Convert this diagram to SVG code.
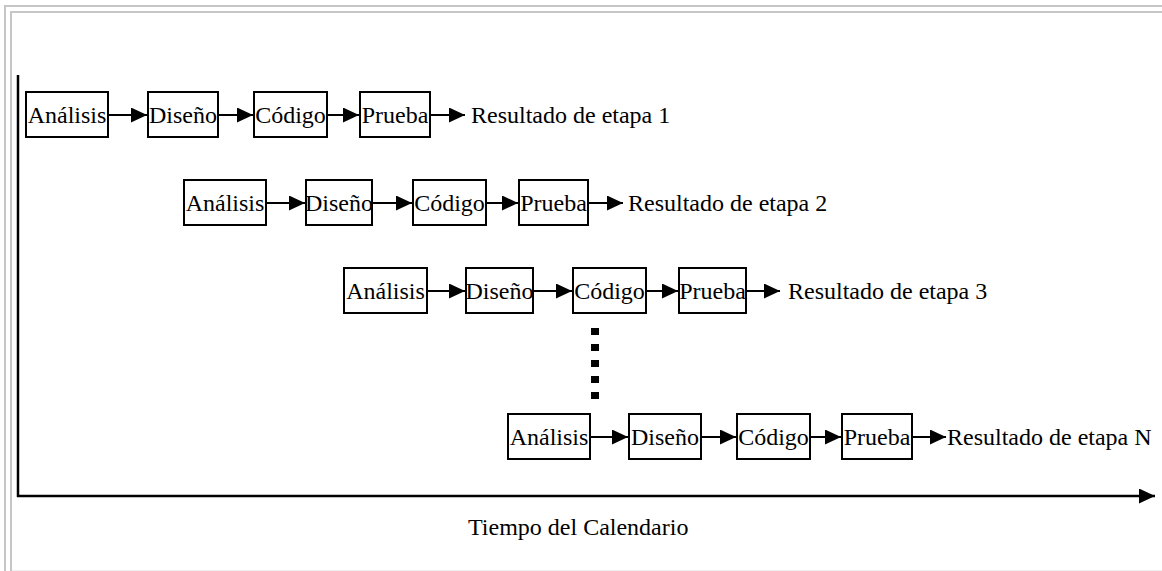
<svg xmlns="http://www.w3.org/2000/svg" width="1162" height="571" viewBox="0 0 1162 571">
<style>
.box{fill:#fff;stroke:#000;stroke-width:2}
.t{font-family:"Liberation Serif","Times New Roman",serif;font-size:24px;fill:#000}
.c{text-anchor:middle}
.ar{stroke:#000;stroke-width:2;fill:none;marker-end:url(#ah)}
.frame{fill:none;stroke:#c6c6c6;stroke-width:2}
</style>
<defs>
<marker id="ah" viewBox="0 0 16 15" refX="16" refY="7.5" markerWidth="16" markerHeight="15" markerUnits="userSpaceOnUse" orient="auto">
<path d="M0,0 L16,7.5 L0,15 z" fill="#000"/>
</marker>
</defs>
<rect x="0" y="0" width="1162" height="571" fill="#fff"/>
<g id="frame">
<path class="frame" d="M5,571 V6 H1162"/>
<path class="frame" d="M11,571 V12 H1162"/>
<path d="M12,570.5 H1162" stroke="#eeeeee" stroke-width="1" fill="none"/>
</g>
<g id="axes">
<path d="M18,75 V497" stroke="#000" stroke-width="2.5" fill="none"/>
<path d="M17,496 H1155" stroke="#000" stroke-width="2.5" fill="none" marker-end="url(#ah)"/>
<text class="t" x="468" y="535">Tiempo del Calendario</text>
</g>
<g id="connectors">
<path class="ar" d="M109,115 H147"/>
<path class="ar" d="M219,115 H253"/>
<path class="ar" d="M328,115 H359"/>
<path class="ar" d="M431,115 H465"/>
<path class="ar" d="M267,203 H305"/>
<path class="ar" d="M373,203 H412"/>
<path class="ar" d="M487,203 H518"/>
<path class="ar" d="M589,203 H623"/>
<path class="ar" d="M428,291 H465"/>
<path class="ar" d="M534,291 H572"/>
<path class="ar" d="M647,291 H678"/>
<path class="ar" d="M747,291 H780"/>
<path class="ar" d="M591,437 H628"/>
<path class="ar" d="M702,437 H736"/>
<path class="ar" d="M811,437 H841"/>
<path class="ar" d="M913,437 H946"/>
<path d="M595,328 V400" stroke="#000" stroke-width="8" stroke-dasharray="7 9" fill="none"/>
</g>
<g id="stage1">
<g id="s1-analisis"><rect class="box" x="26" y="92" width="82" height="45"/><text class="t c" x="67" y="123">Análisis</text></g>
<g id="s1-diseno"><rect class="box" x="148" y="92" width="70" height="45"/><text class="t c" x="183" y="123">Diseño</text></g>
<g id="s1-codigo"><rect class="box" x="254" y="92" width="73" height="45"/><text class="t c" x="290.5" y="123">Código</text></g>
<g id="s1-prueba"><rect class="box" x="360" y="92" width="70" height="45"/><text class="t c" x="395" y="123">Prueba</text></g>
<text class="t" x="471" y="123">Resultado de etapa 1</text>
</g>
<g id="stage2">
<g id="s2-analisis"><rect class="box" x="184" y="180" width="82" height="45"/><text class="t c" x="225" y="211">Análisis</text></g>
<g id="s2-diseno"><rect class="box" x="306" y="180" width="66" height="45"/><text class="t c" x="339" y="211">Diseño</text></g>
<g id="s2-codigo"><rect class="box" x="413" y="180" width="73" height="45"/><text class="t c" x="449.5" y="211">Código</text></g>
<g id="s2-prueba"><rect class="box" x="519" y="180" width="69" height="45"/><text class="t c" x="553.5" y="211">Prueba</text></g>
<text class="t" x="628" y="211">Resultado de etapa 2</text>
</g>
<g id="stage3">
<g id="s3-analisis"><rect class="box" x="344" y="268" width="83" height="45"/><text class="t c" x="385.5" y="299">Análisis</text></g>
<g id="s3-diseno"><rect class="box" x="466" y="268" width="67" height="45"/><text class="t c" x="499.5" y="299">Diseño</text></g>
<g id="s3-codigo"><rect class="box" x="573" y="268" width="73" height="45"/><text class="t c" x="609.5" y="299">Código</text></g>
<g id="s3-prueba"><rect class="box" x="679" y="268" width="67" height="45"/><text class="t c" x="712.5" y="299">Prueba</text></g>
<text class="t" x="788" y="299">Resultado de etapa 3</text>
</g>
<g id="stageN">
<g id="sN-analisis"><rect class="box" x="508" y="414" width="82" height="45"/><text class="t c" x="549" y="445">Análisis</text></g>
<g id="sN-diseno"><rect class="box" x="629" y="414" width="72" height="45"/><text class="t c" x="665" y="445">Diseño</text></g>
<g id="sN-codigo"><rect class="box" x="737" y="414" width="73" height="45"/><text class="t c" x="773.5" y="445">Código</text></g>
<g id="sN-prueba"><rect class="box" x="842" y="414" width="70" height="45"/><text class="t c" x="877" y="445">Prueba</text></g>
<text class="t" x="947" y="445">Resultado de etapa N</text>
</g>
</svg>
